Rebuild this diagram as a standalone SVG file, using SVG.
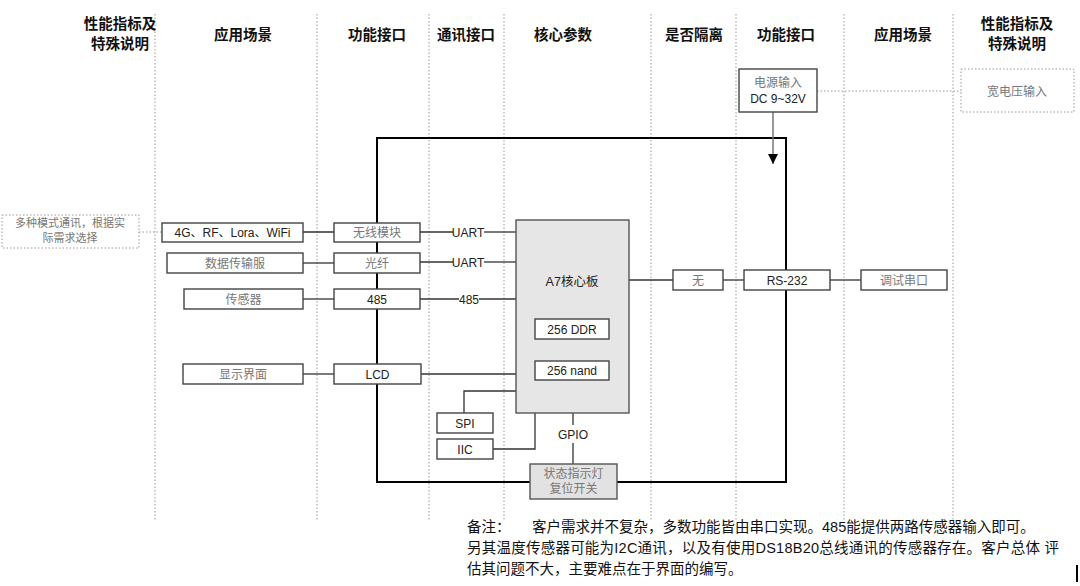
<svg xmlns="http://www.w3.org/2000/svg" width="1080" height="586" viewBox="0 0 1080 586">
<defs>
<style>
.grid{stroke:#9a9a9a;stroke-width:1;stroke-dasharray:1.5,2;fill:none}
.hd{font-family:"Noto Sans CJK SC",sans-serif;font-weight:700;font-size:14.5px;fill:#111;text-anchor:middle}
.box{fill:#fff;stroke:#444;stroke-width:1.4}
.dbox{fill:#fff;stroke:#999;stroke-width:1;stroke-dasharray:1.5,2}
.gbox{fill:#e6e6e6;stroke:#555;stroke-width:1.4}
.cn{font-family:"Noto Sans CJK SC",sans-serif;font-size:12px;fill:#777;text-anchor:middle}
.lt{font-family:"Liberation Sans","Noto Sans CJK SC",sans-serif;font-size:12px;fill:#222;text-anchor:middle}
.ln{stroke:#333;stroke-width:1.3;fill:none}
.dl{stroke:#999;stroke-width:1;stroke-dasharray:1.5,2;fill:none}
.note{font-family:"Liberation Sans","Noto Sans CJK SC",sans-serif;font-size:14.5px;fill:#111}
</style>
<marker id="arr" viewBox="0 0 10 10" refX="10" refY="5" markerWidth="10" markerHeight="10" markerUnits="userSpaceOnUse" orient="auto">
<path d="M0,0 L10,5 L0,10 z" fill="#000"/>
</marker>
</defs>
<rect width="1080" height="586" fill="#fff"/>

<g id="grid">
<line class="grid" x1="155" y1="14" x2="155" y2="521"/>
<line class="grid" x1="317" y1="14" x2="317" y2="521"/>
<line class="grid" x1="429" y1="14" x2="429" y2="521"/>
<line class="grid" x1="504" y1="14" x2="504" y2="521"/>
<line class="grid" x1="651" y1="14" x2="651" y2="521"/>
<line class="grid" x1="736" y1="14" x2="736" y2="521"/>
<line class="grid" x1="844" y1="14" x2="844" y2="521"/>
<line class="grid" x1="953" y1="14" x2="953" y2="521"/>
</g>

<g id="headers">
<text class="hd" x="120" y="29">性能指标及</text>
<text class="hd" x="120" y="49">特殊说明</text>
<text class="hd" x="243" y="40">应用场景</text>
<text class="hd" x="377" y="40">功能接口</text>
<text class="hd" x="466" y="40">通讯接口</text>
<text class="hd" x="563" y="40">核心参数</text>
<text class="hd" x="694" y="40">是否隔离</text>
<text class="hd" x="786" y="40">功能接口</text>
<text class="hd" x="903" y="40">应用场景</text>
<text class="hd" x="1017" y="29">性能指标及</text>
<text class="hd" x="1017" y="49">特殊说明</text>
</g>

<g id="frame">
<rect x="377" y="138" width="409" height="344" fill="none" stroke="#000" stroke-width="2"/>
</g>

<g id="connectors">
<line class="dl" x1="139" y1="232" x2="162" y2="232"/>
<line class="dl" x1="817" y1="91" x2="961" y2="91"/>
<line class="ln" x1="303" y1="232" x2="334" y2="232" style="stroke:#111"/>
<line class="ln" x1="303" y1="263" x2="334" y2="263"/>
<line class="ln" x1="303" y1="299" x2="334" y2="299"/>
<line class="ln" x1="303" y1="374" x2="334" y2="374"/>
<line class="ln" x1="420" y1="232" x2="453" y2="232"/>
<line class="ln" x1="484" y1="232" x2="516" y2="232"/>
<line class="ln" x1="420" y1="262" x2="453" y2="262"/>
<line class="ln" x1="484" y1="262" x2="516" y2="262"/>
<line class="ln" x1="420" y1="299" x2="459" y2="299"/>
<line class="ln" x1="479" y1="299" x2="516" y2="299"/>
<line class="ln" x1="421" y1="374" x2="516" y2="374"/>
<polyline class="ln" points="464,413 464,391 516,391"/>
<polyline class="ln" points="493,449 535,449 535,413"/>
<line class="ln" x1="573" y1="413" x2="573" y2="425"/>
<line class="ln" x1="573" y1="443" x2="573" y2="464"/>
<line class="ln" x1="629" y1="280" x2="673" y2="280"/>
<line class="ln" x1="723" y1="280" x2="744" y2="280"/>
<line class="ln" x1="830" y1="280" x2="861" y2="280"/>
<line x1="773" y1="112" x2="773" y2="164" stroke="#777" stroke-width="1.5" marker-end="url(#arr)"/>
<text class="lt" x="468" y="236.5">UART</text>
<text class="lt" x="468" y="266.5">UART</text>
<text class="lt" x="469" y="303.5">485</text>
<text class="lt" x="573" y="438.5">GPIO</text>
</g>

<g id="n-multi">
<rect class="dbox" x="2" y="215" width="137" height="33"/>
<text class="cn" x="70" y="227" style="font-size:11px">多种模式通讯，根据实</text>
<text class="cn" x="70" y="241.5" style="font-size:11px">际需求选择</text>
</g>
<g id="n-4g">
<rect class="box" x="162" y="223" width="141" height="19"/>
<text class="lt" x="232.5" y="237">4G、RF、Lora、WiFi</text>
</g>
<g id="n-data">
<rect class="box" x="167" y="253" width="136" height="20"/>
<text class="cn" x="235" y="267.5">数据传输服</text>
</g>
<g id="n-sensor">
<rect class="box" x="184" y="289" width="119" height="20"/>
<text class="cn" x="243.5" y="303.5">传感器</text>
</g>
<g id="n-display">
<rect class="box" x="183" y="364" width="120" height="20"/>
<text class="cn" x="243" y="378.5">显示界面</text>
</g>
<g id="n-wireless">
<rect class="box" x="334" y="223" width="86" height="19"/>
<text class="cn" x="377" y="237">无线模块</text>
</g>
<g id="n-fiber">
<rect class="box" x="334" y="253" width="86" height="20"/>
<text class="cn" x="377" y="267.5">光纤</text>
</g>
<g id="n-485">
<rect class="box" x="334" y="289" width="86" height="20"/>
<text class="lt" x="377" y="303.5">485</text>
</g>
<g id="n-lcd">
<rect class="box" x="334" y="364" width="87" height="20"/>
<text class="lt" x="377.5" y="378.5">LCD</text>
</g>
<g id="n-a7">
<rect class="gbox" x="516" y="220" width="113" height="193"/>
<text class="lt" x="572" y="285.5" style="font-size:12.5px">A7核心板</text>
</g>
<g id="n-ddr">
<rect class="box" x="535" y="319" width="74" height="20"/>
<text class="lt" x="572" y="333.5">256 DDR</text>
</g>
<g id="n-nand">
<rect class="box" x="535" y="361" width="74" height="19"/>
<text class="lt" x="572" y="375">256 nand</text>
</g>
<g id="n-spi">
<rect class="box" x="437" y="413" width="56" height="20"/>
<text class="lt" x="465" y="427.5">SPI</text>
</g>
<g id="n-iic">
<rect class="box" x="437" y="439" width="56" height="20"/>
<text class="lt" x="465" y="453.5">IIC</text>
</g>
<g id="n-status">
<rect class="gbox" x="530" y="464" width="87" height="35" style="fill:#e2e2e2"/>
<text class="cn" x="573.5" y="477.5">状态指示灯</text>
<text class="cn" x="573.5" y="492.5">复位开关</text>
</g>
<g id="n-none">
<rect class="box" x="673" y="270" width="50" height="20"/>
<text class="cn" x="698" y="284.5">无</text>
</g>
<g id="n-rs232">
<rect class="box" x="744" y="270" width="86" height="20"/>
<text class="lt" x="787" y="284.5">RS-232</text>
</g>
<g id="n-debug">
<rect class="box" x="861" y="270" width="86" height="20"/>
<text class="cn" x="904" y="284.5">调试串口</text>
</g>
<g id="n-power">
<rect class="box" x="739" y="69" width="78" height="43"/>
<text class="cn" x="778" y="87">电源输入</text>
<text class="lt" x="778" y="102.5">DC 9~32V</text>
</g>
<g id="n-wide">
<rect class="dbox" x="961" y="69" width="113" height="43"/>
<text class="cn" x="1017" y="95.5">宽电压输入</text>
</g>

<g id="notes">
<text class="note" x="467" y="532">备注：</text>
<text class="note" x="532" y="532">客户需求并不复杂，多数功能皆由串口实现。485能提供两路传感器输入即可。</text>
<text class="note" x="467" y="553" textLength="592" lengthAdjust="spacing">另其温度传感器可能为I2C通讯，以及有使用DS18B20总线通讯的传感器存在。客户总体 评</text>
<text class="note" x="467" y="574">估其问题不大，主要难点在于界面的编写。</text>
<line x1="1077" y1="565" x2="1077" y2="582" stroke="#000" stroke-width="2"/>
</g>
</svg>
